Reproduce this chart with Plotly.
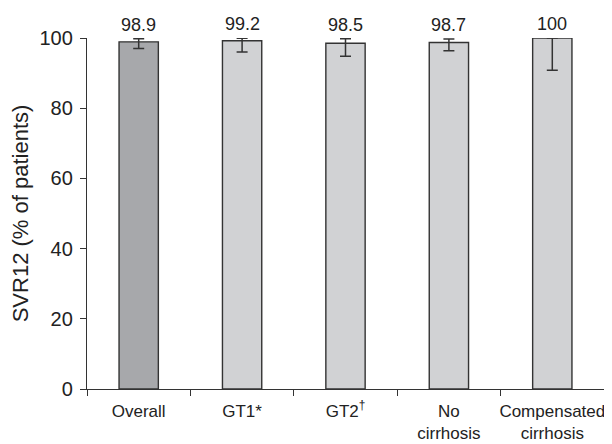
import plotly.graph_objects as go

categories = ["Overall", "GT1*", "GT2<sup>†</sup>", "No<br>cirrhosis", "Compensated<br>cirrhosis"]
svr12 = [98.9, 99.2, 98.5, 98.7, 100]
ci_low = [97.0, 96.0, 94.8, 96.4, 90.8]
ci_high = [99.8, 99.9, 99.8, 99.7, 100]
labels = ["98.9", "99.2", "98.5", "98.7", "100"]
bar_colors = ["#a7a8ab", "#d1d2d4", "#d1d2d4", "#d1d2d4", "#d1d2d4"]

err_plus = [h - v for h, v in zip(ci_high, svr12)]
err_minus = [v - l for v, l in zip(svr12, ci_low)]

fig = go.Figure()
fig.add_trace(go.Bar(
    x=categories, y=svr12, width=0.38,
    marker=dict(color=bar_colors, line=dict(color="#333333", width=1.4)),
    error_y=dict(type="data", symmetric=False, array=err_plus, arrayminus=err_minus,
                 color="#333333", thickness=1.5, width=5.5),
    cliponaxis=False, showlegend=False, hoverinfo="skip",
))

for c, h, t in zip(categories, ci_high, labels):
    fig.add_annotation(x=c, y=h, text=t, showarrow=False, yanchor="bottom",
                       yshift=2, font=dict(size=18, color="#222222"))

# page body adds an 8px offset; figure sized to fill the remaining window
fig.update_layout(
    width=604, height=436,
    margin=dict(l=79, r=8, t=30, b=55, autoexpand=False),
    paper_bgcolor="white", plot_bgcolor="white",
    font=dict(family="Liberation Sans, Arial, sans-serif", size=18, color="#222222"),
)
fig.update_xaxes(
    type="category", showline=True, linecolor="#333333", linewidth=1.4,
    ticks="outside", tickson="boundaries", ticklen=6, tickcolor="#333333", tickwidth=1.4,
    showgrid=False, tickfont=dict(size=17), range=[-0.5, 4.5], ticklabelstandoff=6,
    tickangle=0, automargin=False,
)
fig.update_yaxes(
    range=[0, 100], tickvals=[0, 20, 40, 60, 80, 100], showline=True,
    linecolor="#333333", linewidth=1.4, ticks="outside", ticklen=6,
    tickcolor="#333333", tickwidth=1.4, showgrid=False, zeroline=False,
    tickfont=dict(size=20), ticklabelstandoff=3, automargin=False,
    title=dict(text="SVR12 (% of patients)", font=dict(size=22), standoff=6),
)

fig.write_html("out.html")
